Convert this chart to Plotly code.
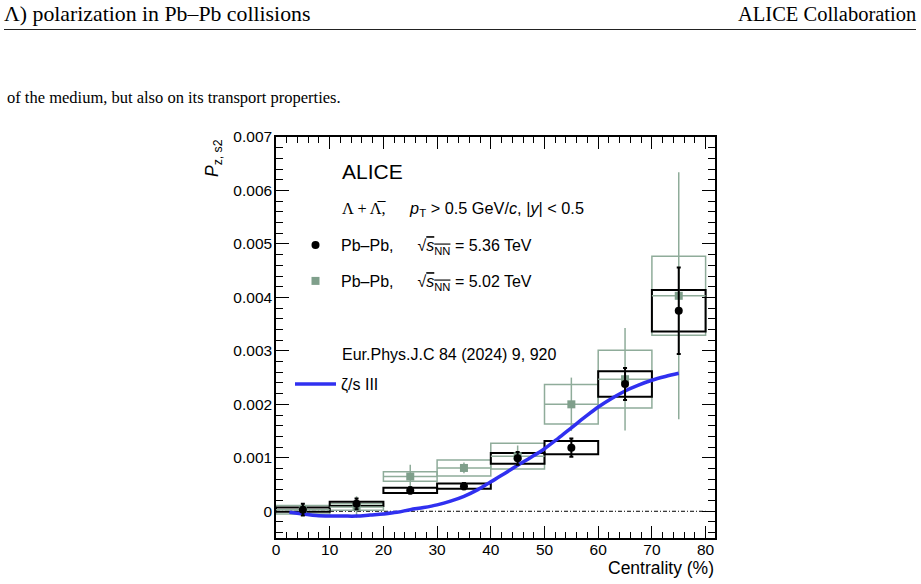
import plotly.graph_objects as go

# ---------------- data ----------------
centrality = [5, 15, 25, 35, 45, 55, 65, 75]
bin_halfwidth = [5, 5, 5, 5, 5, 5, 5, 5]

# Pb-Pb 5.36 TeV (black)
p536 = [0.00003, 0.00014, 0.00039, 0.00047, 0.00099, 0.00119, 0.00238, 0.00375]
p536_stat = [0.00011, 0.00010, 0.00006, 0.00006, 0.00012, 0.00017, 0.00030, 0.00081]
p536_sys = [0.00004, 0.00004, 0.00005, 0.00005, 0.00010, 0.000125, 0.00024, 0.00039]

# Pb-Pb 5.02 TeV (green)
p502 = [0.00003, 0.00008, 0.00065, 0.00081, 0.00103, 0.00200, 0.00247, 0.00403]
p502_stat = [0.00010, 0.00020, 0.00022, 0.00010, 0.00020, 0.00050, 0.00096, 0.00231]
p502_sys = [0.00008, 0.00006, 0.00009, 0.00015, 0.00024, 0.00037, 0.00054, 0.00074]

# zeta/s III model curve
curve_x = [2.5, 5, 7.5, 10, 12.5, 15, 17.5, 20, 22.5, 25, 27.5, 30, 32.5, 35, 37.5,
           40, 42.5, 45, 47.5, 50, 52.5, 55, 57.5, 60, 62.5, 65, 67.5, 70, 72.5, 75]
curve_y = [-0.00002, -0.00005, -0.00008, -0.00009, -0.00009, -0.00009, -0.00007,
           -0.00005, -0.00002, 0.00003, 0.00007, 0.00012, 0.00019, 0.00028, 0.00040,
           0.00055, 0.00070, 0.00086, 0.00101, 0.00117, 0.00136, 0.00156, 0.00176,
           0.00195, 0.00211, 0.00225, 0.00236, 0.00245, 0.00252, 0.00258]

x_tickvals = [0, 10, 20, 30, 40, 50, 60, 70, 80]
x_ticktext = ["0", "10", "20", "30", "40", "50", "60", "70", "80"]
y_tickvals = [0, 0.001, 0.002, 0.003, 0.004, 0.005, 0.006, 0.007]
y_ticktext = ["0", "0.001", "0.002", "0.003", "0.004", "0.005", "0.006", "0.007"]

# ---------------- layout geometry ----------------
W, H = 921, 584
L, R, T, B = 276, 715, 137, 538
PW, PH = R - L, B - T


def px(x):
    return (x - L) / PW


def py(y):
    return (B - y) / PH


GREEN_LINE = "#8fac9a"
GREEN_MARK = "#7f9f8b"
BLUE = "#3030f0"
SANS = "Liberation Sans"
SERIF = "Liberation Serif"

fig = go.Figure()

# systematic boxes (green, then black)
fig.add_trace(go.Bar(
    x=centrality, base=[v - s for v, s in zip(p502, p502_sys)],
    y=[2 * s for s in p502_sys], width=[2 * h for h in bin_halfwidth],
    marker=dict(color="rgba(0,0,0,0)", line=dict(color=GREEN_LINE, width=1.5)),
    showlegend=False, hoverinfo="skip"))
fig.add_trace(go.Bar(
    x=centrality, base=[v - s for v, s in zip(p536, p536_sys)],
    y=[2 * s for s in p536_sys], width=[2 * h for h in bin_halfwidth],
    marker=dict(color="rgba(0,0,0,0)", line=dict(color="black", width=2)),
    showlegend=False, hoverinfo="skip"))

# green points
fig.add_trace(go.Scatter(
    x=centrality, y=p502, mode="markers",
    marker=dict(symbol="square", size=8, color=GREEN_MARK),
    error_y=dict(type="data", array=p502_stat, color=GREEN_LINE, thickness=1.5, width=0),
    error_x=dict(type="data", array=bin_halfwidth, color=GREEN_LINE, thickness=1.5, width=0),
    name="Pb\u2013Pb,\u2003\u2002\u221a<span style='text-decoration:overline'><i>s</i><sub>NN</sub></span> = 5.02 TeV",
    legend="legend2"))

# model curve
fig.add_trace(go.Scatter(
    x=curve_x, y=curve_y, mode="lines",
    line=dict(color=BLUE, width=3.5, shape="spline"),
    name="\u03b6/s III", legend="legend3"))

# black points
fig.add_trace(go.Scatter(
    x=centrality, y=p536, mode="markers",
    marker=dict(symbol="circle", size=8, color="black"),
    error_y=dict(type="data", array=p536_stat, color="black", thickness=2, width=2),
    name="Pb\u2013Pb,\u2003\u2002\u221a<span style='text-decoration:overline'><i>s</i><sub>NN</sub></span> = 5.36 TeV",
    legend="legend"))

legend_common = dict(xanchor="left", yanchor="middle", bgcolor="rgba(0,0,0,0)",
                     font=dict(family=SANS, size=16, color="black"), itemwidth=41,
                     borderwidth=0)

fig.update_layout(
    width=W, height=H,
    margin=dict(l=L, r=W - R, t=T, b=H - B),
    paper_bgcolor="white", plot_bgcolor="white",
    barmode="overlay",
    legend=dict(x=px(290), y=py(245), **legend_common),
    legend2=dict(x=px(290), y=py(281), **legend_common),
    legend3=dict(x=px(290), y=py(384), **legend_common),
    xaxis=dict(range=[0, 81.75], showline=True, linecolor="black", linewidth=1.5,
               mirror="allticks", ticks="inside", ticklen=12, tickwidth=1.2,
               tickcolor="black", tickmode="array", tickvals=x_tickvals,
               ticktext=x_ticktext, showgrid=False, zeroline=False,
               ticklabelstandoff=-3,
               tickfont=dict(family=SANS, size=15.5, color="black"),
               minor=dict(ticks="inside", ticklen=6, tick0=0, dtick=2,
                          tickwidth=1, tickcolor="black", showgrid=False)),
    yaxis=dict(range=[-0.0005, 0.007], showline=True, linecolor="black", linewidth=1.5,
               mirror="allticks", ticks="inside", ticklen=13, tickwidth=1.2,
               tickcolor="black", tickmode="array", tickvals=y_tickvals,
               ticktext=y_ticktext, showgrid=False, zeroline=False,
               ticklabelstandoff=-1,
               tickfont=dict(family=SANS, size=15.5, color="black"),
               minor=dict(ticks="inside", ticklen=7, tick0=0, dtick=0.0002,
                          tickwidth=1, tickcolor="black", showgrid=False)),
)

# zero reference line
fig.add_shape(type="line", xref="x", yref="y", x0=0, x1=80, y0=0, y1=0,
              line=dict(color="black", width=1, dash="4px,2px,1px,2px"), layer="below")

# header rule
fig.add_shape(type="line", xref="paper", yref="paper", x0=px(4), x1=px(916),
              y0=py(29.5), y1=py(29.5), line=dict(color="#222", width=1))


def ann(text, x, y, size, family=SANS, xanchor="left", yanchor="middle", angle=0):
    fig.add_annotation(text=text, x=px(x), y=py(y), xref="paper", yref="paper",
                       xanchor=xanchor, yanchor=yanchor, showarrow=False,
                       textangle=angle, font=dict(family=family, size=size, color="black"))


ann("\u039b) polarization in Pb\u2013Pb collisions", 2, 14, 21.8, SERIF)
ann("ALICE Collaboration", 918, 14, 20.5, SERIF, xanchor="right")
ann("of the medium, but also on its transport properties.", 5, 97, 16.5, SERIF)

ann("ALICE", 340, 171, 21)
ann("<span style='font-family:Liberation Serif'>\u039b + \u039b\u0305,</span>\u2003\u2002"
    "<i>p</i><sub>T</sub> &gt; 0.5 GeV/<i>c</i>, |<i>y</i>| &lt; 0.5", 340, 209, 16.3)
ann("Eur.Phys.J.C 84 (2024) 9, 920", 340, 354, 16)

ann("Centrality (%)", 716, 568, 17.5, xanchor="right")
ann("<i>P</i><sub>z, s2</sub>", 213, 137, 17.5, xanchor="center", yanchor="top", angle=-90)

fig.write_html("out.html")
